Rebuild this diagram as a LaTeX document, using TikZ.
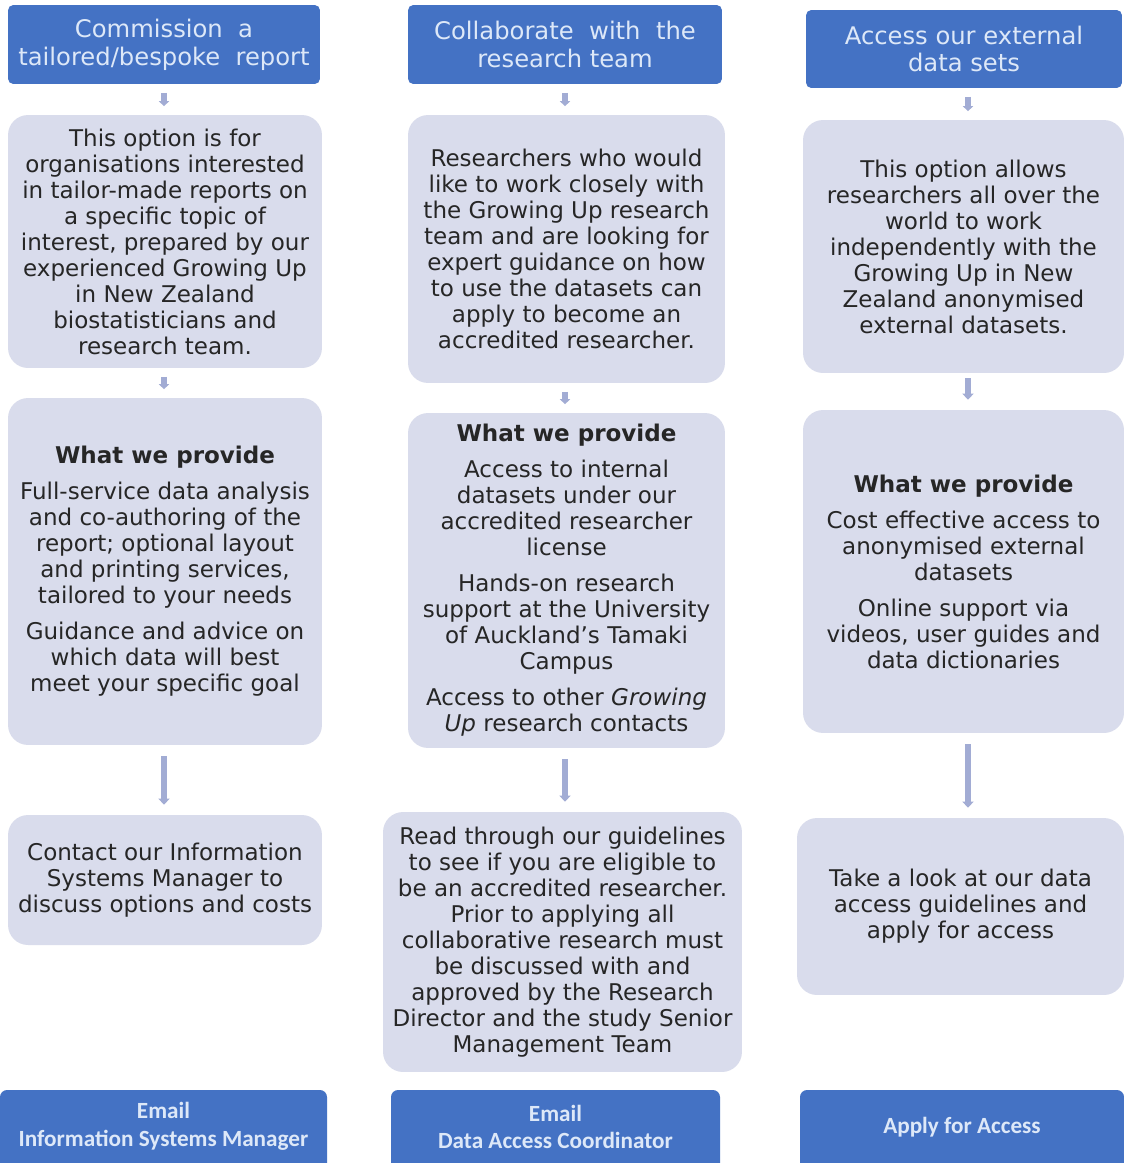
\documentclass[tikz,border=0pt]{standalone}
\usepackage{fontspec}
\setmainfont{DejaVu Sans}
\newfontfamily\btnfont{Carlito}
\usepackage{xcolor}
\usetikzlibrary{arrows.meta}

\definecolor{hdblue}{HTML}{4472C4}
\definecolor{boxfill}{HTML}{D9DCEC}
\definecolor{arrowc}{HTML}{A2ACD4}
\definecolor{hdtext}{HTML}{DDE8F8}
\definecolor{bodytext}{HTML}{262626}

\begin{document}
\begin{tikzpicture}[x=0.02cm,y=-0.02cm,
  hd/.style={fill=hdblue,rounded corners=3pt,text=hdtext,align=center,inner sep=0pt,
    font=\fontsize{13.8}{15.8}\selectfont},
  bx/.style={fill=boxfill,rounded corners=0.4cm,text=bodytext,align=center,inner sep=0pt,
    font=\fontsize{13.1}{14.8}\selectfont},
  btn/.style={text=hdtext,align=center,inner sep=0pt,
    font=\btnfont\bfseries\fontsize{13.2}{15.8}\selectfont},
  sa/.style={-{Triangle[width=0.2cm,length=0.1cm]},line width=3pt,arrowc,
    shorten <=0.17cm,shorten >=0.17cm},
  la/.style={-{Triangle[width=0.22cm,length=0.12cm]},line width=3pt,arrowc,
    shorten <=0.22cm,shorten >=0.2cm}]
\useasboundingbox (0,0) rectangle (1124,1163);
\fill[white] (0,0) rectangle (1124,1163);

% column 1
\node[hd,minimum width=6.24cm,minimum height=1.58cm] (h1) at (164,44.5)
  {Commission~~a\\tailored/bespoke~~report};
\node[bx,minimum width=6.28cm,minimum height=5.06cm] (b1) at (165,241.5)
  {This option is for\\organisations interested\\in tailor-made reports on\\a specific topic of\\
   interest, prepared by our\\experienced Growing Up\\in New Zealand\\biostatisticians and\\research team.};
\node[bx,minimum width=6.28cm,minimum height=6.94cm] (c1) at (165,571.5)
  {\textbf{What we provide}\\[0.2cm]Full-service data analysis\\and co-authoring of the\\report; optional layout\\
   and printing services,\\tailored to your needs\\[0.2cm]Guidance and advice on\\which data will best\\meet your specific goal};
\node[bx,minimum width=6.28cm,minimum height=2.6cm] (d1) at (165,880)
  {Contact our Information\\Systems Manager to\\discuss options and costs};
\fill[hdblue,rounded corners=4pt] (0,1185) rectangle (327,1090);
\node[btn] (e1) at (163.5,1126.5) {Email\\Information Systems Manager};

% column 2
\node[hd,minimum width=6.28cm,minimum height=1.58cm] (h2) at (565,44.5)
  {Collaborate~~with~~the\\research team};
\node[bx,minimum width=6.34cm,minimum height=5.36cm] (b2) at (566.5,249)
  {Researchers who would\\like to work closely with\\the Growing Up research\\team and are looking for\\
   expert guidance on how\\to use the datasets can\\apply to become an\\accredited researcher.};
\node[bx,minimum width=6.34cm,minimum height=6.7cm] (c2) at (566.5,580.5)
  {\textbf{What we provide}\\[0.2cm]Access to internal\\datasets under our\\accredited researcher\\license\\[0.2cm]
   Hands-on research\\support at the University\\of Auckland's Tamaki\\Campus\\[0.2cm]
   Access to other \textit{Growing}\\\textit{Up} research contacts};
\node[bx,minimum width=7.18cm,minimum height=5.2cm] (d2) at (562.5,942)
  {Read through our guidelines\\to see if you are eligible to\\be an accredited researcher.\\Prior to applying all\\
   collaborative research must\\be discussed with and\\approved by the Research\\Director and the study Senior\\Management Team};
\fill[hdblue,rounded corners=4pt] (391,1185) rectangle (720,1090);
\node[btn] (e2) at (555.5,1127) {Email\\Data Access Coordinator};

% column 3
\node[hd,minimum width=6.32cm,minimum height=1.56cm] (h3) at (964,49)
  {Access our external\\data sets};
\node[bx,minimum width=6.42cm,minimum height=5.06cm] (b3) at (963.5,246.5)
  {This option allows\\researchers all over the\\world to work\\independently with the\\
   Growing Up in New\\Zealand anonymised\\external datasets.};
\node[bx,minimum width=6.42cm,minimum height=6.46cm] (c3) at (963.5,571.5)
  {\textbf{What we provide}\\[0.2cm]Cost effective access to\\anonymised external\\datasets\\[0.2cm]
   Online support via\\videos, user guides and\\data dictionaries};
\node[bx,minimum width=6.54cm,minimum height=3.54cm] (d3) at (960.5,906.5)
  {Take a look at our data\\access guidelines and\\apply for access};
\fill[hdblue,rounded corners=4pt] (800,1185) rectangle (1124,1090);
\node[btn] (e3) at (962,1127) {Apply for Access};

% arrows
\draw[sa] (h1.south) -- (h1.south |- b1.north);
\draw[sa] (h1.south |- b1.south) -- (h1.south |- c1.north);
\draw[la] (h1.south |- c1.south) -- (h1.south |- d1.north);
\draw[sa] (h2.south) -- (h2.south |- b2.north);
\draw[sa] (h2.south |- b2.south) -- (h2.south |- c2.north);
\draw[la] (h2.south |- c2.south) -- (h2.south |- d2.north);
\draw[sa] ([xshift=0.08cm]h3.south) -- ([xshift=0.08cm]h3.south |- b3.north);
\draw[la,shorten <=0.1cm,shorten >=0.2cm] ([xshift=0.08cm]h3.south |- b3.south) -- ([xshift=0.08cm]h3.south |- c3.north);
\draw[la] ([xshift=0.08cm]h3.south |- c3.south) -- ([xshift=0.08cm]h3.south |- d3.north);
\end{tikzpicture}
\end{document}
